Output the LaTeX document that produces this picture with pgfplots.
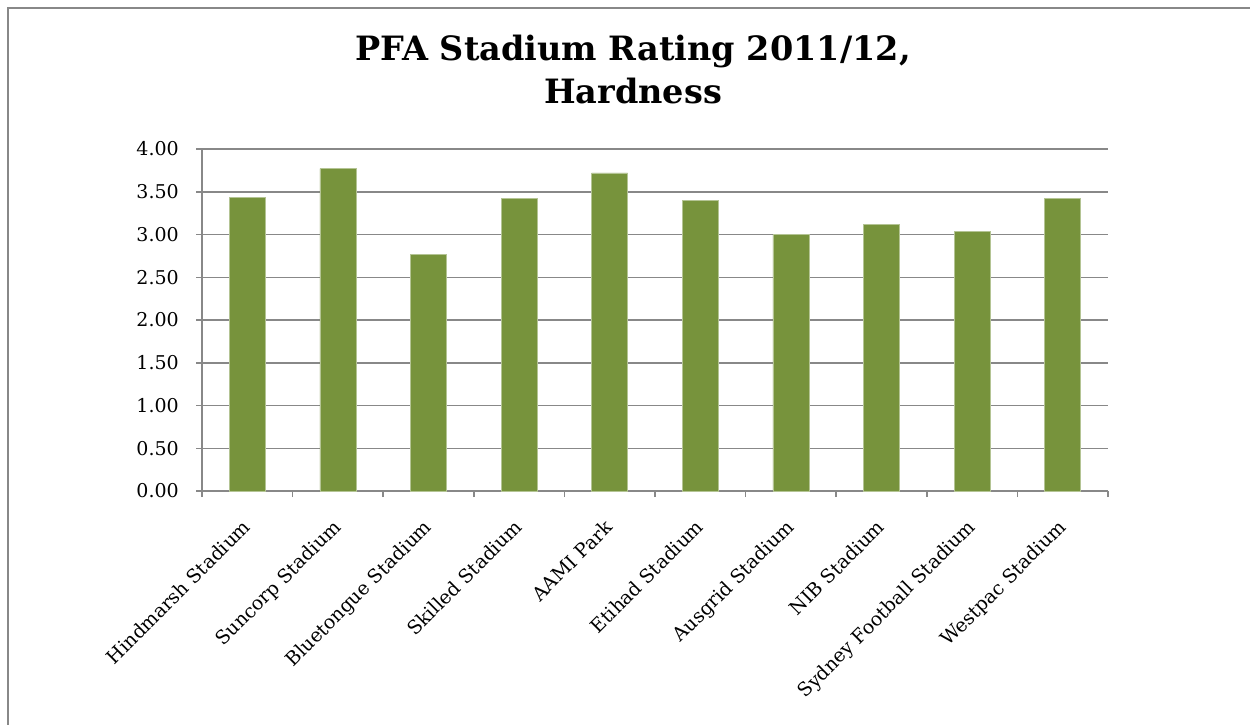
\documentclass[border=0pt]{standalone}
\usepackage{fontspec}
\setmainfont{DejaVu Serif}
\usepackage{pgfplots}
\pgfplotsset{compat=1.18}
\definecolor{barg}{HTML}{77933C}
\definecolor{gridg}{HTML}{888888}

\begin{document}
\begin{tikzpicture}[x=1pt,y=1pt]
\useasboundingbox (0,0) rectangle (1250,724);
\clip (0,0) rectangle (1250,724);
\draw[gridg, line width=2pt] (8,716) rectangle (1270,-20);
\node[anchor=base, font=\fontsize{33.5}{38}\selectfont\bfseries] at (633,663) {PFA Stadium Rating 2011/12,};
\node[anchor=base, font=\fontsize{33.5}{38}\selectfont\bfseries] at (633,620) {Hardness};
\begin{axis}[
    at={(202pt,233pt)}, anchor=south west,
    scale only axis, width=906pt, height=342pt,
    xmin=-0.5, xmax=9.5, ymin=0, ymax=4,
    axis lines*=left,
    axis line style={gridg, line width=1.5pt, -},
    ytick={0,0.5,...,4},
    ymajorgrids,
    grid style={gridg, line width=1.5pt},
    tick align=outside,
    major tick length=6pt, minor tick length=6pt,
    tick style={gridg, line width=1.5pt},
    xtick={0,...,9},
    major x tick style={draw=none},
    minor xtick={-0.5,0.5,...,9.5},
    xticklabels={Hindmarsh Stadium, Suncorp Stadium, Bluetongue Stadium, Skilled Stadium, AAMI Park, Etihad Stadium, Ausgrid Stadium, NIB Stadium, Sydney Football Stadium, Westpac Stadium},
    xticklabel style={xshift=-6pt, yshift=-21pt, rotate=45, anchor=north east, inner sep=0pt, font=\fontsize{19}{22}\selectfont},
    yticklabel style={font=\fontsize{19}{22}\selectfont, inner sep=0pt, xshift=-17pt},
    /pgf/number format/.cd, fixed, fixed zerofill, precision=2, assume math mode=true,
]
\addplot[ybar, bar width=36pt, fill=barg, draw=barg!55!white, line width=0.8pt] coordinates {
    (0,3.43) (1,3.77) (2,2.77) (3,3.42) (4,3.72)
    (5,3.40) (6,3.00) (7,3.12) (8,3.04) (9,3.42)
};
\end{axis}
\end{tikzpicture}
\end{document}
